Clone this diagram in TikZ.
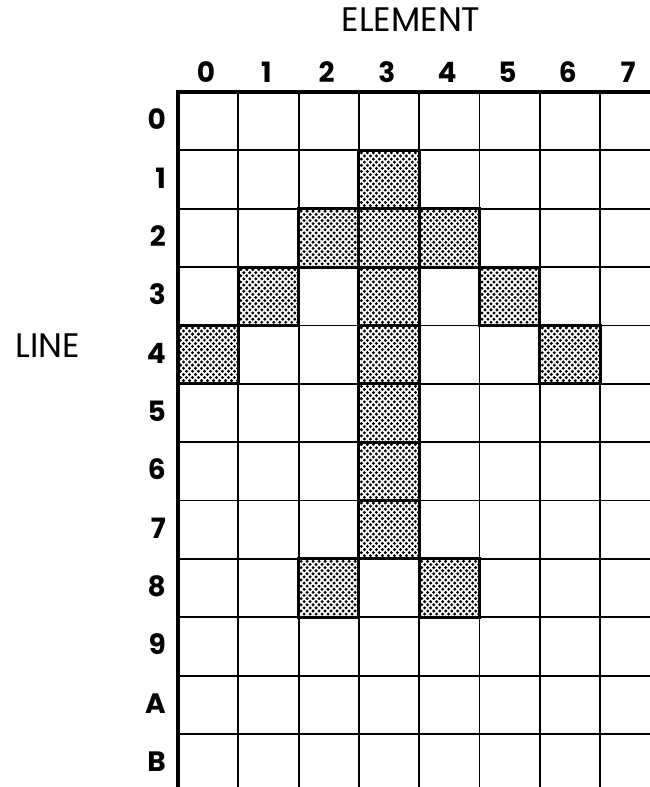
\documentclass[tikz,border=0pt]{standalone}
\usepackage{fontspec}
\setmainfont{Poppins}
\begin{document}
\begin{tikzpicture}[x=1pt,y=-1pt,
  gridline/.style={line width=1.8pt},
  frameline/.style={line width=4pt},
  cellborder/.style={line width=3pt},
  numlabel/.style={font=\fontsize{28}{28}\selectfont\bfseries, inner sep=0pt, anchor=base},
  rowlabel/.style={font=\fontsize{28}{28}\selectfont\bfseries, inner sep=0pt, anchor=base east},
  titlelabel/.style={font=\fontsize{34}{34}\selectfont, inner sep=0pt, anchor=base}]
\fill[white] (0,0) rectangle (650,787);
\useasboundingbox (0,0) rectangle (650,787);
\def\cw{60.3}
\def\rh{58.36}
% shaded cells (dot screen)
\foreach \c/\r in {3/1,2/2,3/2,4/2,1/3,3/3,5/3,0/4,3/4,6/4,3/5,3/6,3/7,2/8,4/8}{
  \pgfmathsetmacro\xo{178+\c*\cw}
  \pgfmathsetmacro\yo{92+\r*\rh}
  \begin{scope}
    \clip (\xo,\yo) rectangle ++(\cw,\rh);
    \foreach \j in {0,...,19}{
      \foreach \i in {0,...,10}{
        \fill ({\xo+2.5+6*\i+3*mod(\j,2)},{\yo+2.5+3.1*\j}) circle (1.65);
      }
    }
  \end{scope}
}
% grid lines
\foreach \i in {1,...,7}
  \draw[gridline] ({178+\i*\cw},92) -- ({178+\i*\cw},787);
\foreach \j in {1,...,11}
  \draw[gridline] (178,{92+\j*\rh}) -- (650,{92+\j*\rh});
% shaded cell borders
\foreach \c/\r in {3/1,2/2,3/2,4/2,1/3,3/3,5/3,0/4,3/4,6/4,3/5,3/6,3/7,2/8,4/8}
  \draw[cellborder] ({178+\c*\cw},{92+\r*\rh}) rectangle ++(\cw,\rh);
% frame
\draw[frameline] (178,787) -- (178,92) -- (650,92);
% titles
\node[titlelabel] (element) at (411,31.5) {ELEMENT};
\node[titlelabel] (line) at (48,357) {LINE};
% column labels
\foreach \t [count=\i from 0] in {0,1,2,3,4,5,6,7}
  \node[numlabel] (col\t) at ({206+\i*\cw},82) {\t};
% row labels
\foreach \t [count=\j from 0] in {0,1,2,3,4,5,6,7,8,9,A,B}
  \node[rowlabel] (row\t) at (166,{92+\j*\rh+\rh/2+8.5}) {\t};
\end{tikzpicture}
\end{document}
